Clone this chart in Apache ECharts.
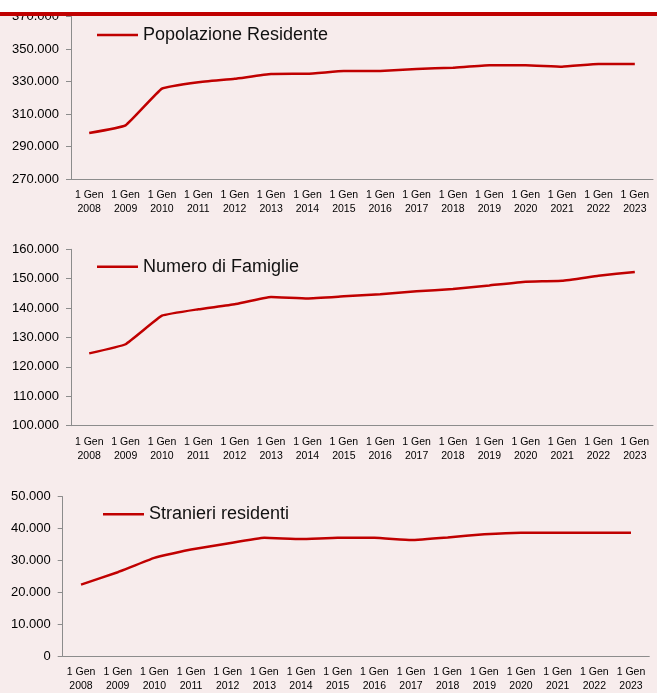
<!DOCTYPE html>
<html>
<head>
<meta charset="utf-8">
<script src="https://cdn.jsdelivr.net/npm/echarts@6/dist/echarts.min.js"></script>
<style>
  html, body { margin: 0; padding: 0; background: #fff; }
  #main { width: 657px; height: 693px; }
</style>
</head>
<body>
<div id="main"></div>
<script>
// anni (categorie comuni ai tre grafici)
var anni = ['2008', '2009', '2010', '2011', '2012', '2013', '2014', '2015',
            '2016', '2017', '2018', '2019', '2020', '2021', '2022', '2023'];

// Popolazione Residente
var popolazione = [298300, 303000, 325600, 329600, 331700, 334600, 334800, 336400,
                   336500, 337700, 338500, 340000, 340000, 339100, 340800, 340800];
var tickPopolazione = [270000, 290000, 310000, 330000, 350000, 370000];

// Numero di Famiglie
var famiglie = [124600, 127700, 137400, 139600, 141300, 143800, 143300, 144000,
                144700, 145700, 146500, 147700, 149000, 149300, 151000, 152300];
var tickFamiglie = [100000, 110000, 120000, 130000, 140000, 150000, 160000];

// Stranieri residenti
var stranieri = [22400, 26300, 30800, 33400, 35300, 37100, 36700, 37100,
                 37100, 36400, 37200, 38200, 38700, 38700, 38700, 38700];
var tickStranieri = [0, 10000, 20000, 30000, 40000, 50000];

var ROSSO = '#C00000';
var FONT = 'Liberation Sans';

function formatIt(v) {
  return String(v).replace(/\B(?=(\d{3})+(?!\d))/g, '.');
}

var chart = echarts.init(document.getElementById('main'));

function asseX(idx) {
  return {
    type: 'category',
    gridIndex: idx,
    data: anni,
    boundaryGap: true,
    axisLine: { lineStyle: { color: '#8c8c8c', width: 1 } },
    axisTick: { length: 4, lineStyle: { color: '#8c8c8c' } },
    axisLabel: {
      interval: 0,
      margin: 9,
      color: '#000',
      fontFamily: FONT,
      fontSize: 10.5,
      lineHeight: 14,
      formatter: function (v) { return '1 Gen\n' + v; }
    },
    splitLine: { show: false }
  };
}

function asseY(idx, ticks) {
  return {
    type: 'value',
    gridIndex: idx,
    min: ticks[0],
    max: ticks[ticks.length - 1],
    axisLine: { show: true, lineStyle: { color: '#8c8c8c', width: 1 } },
    axisTick: { show: true, length: 5, lineStyle: { color: '#8c8c8c' }, customValues: ticks },
    axisLabel: {
      color: '#000',
      fontFamily: FONT,
      fontSize: 13,
      margin: 12,
      customValues: ticks,
      formatter: function (v) { return formatIt(v); }
    },
    splitLine: { show: false }
  };
}

function serie(nome, dati, idx) {
  return {
    name: nome,
    type: 'line',
    xAxisIndex: idx,
    yAxisIndex: idx,
    data: dati,
    symbol: 'none',
    smooth: 0.1,
    lineStyle: { color: ROSSO, width: 2.5 },
    itemStyle: { color: ROSSO }
  };
}

function legenda(nome, left, centerY) {
  return {
    data: [nome],
    left: left,
    top: centerY - 11,
    padding: 0,
    icon: 'rect',
    itemWidth: 41,
    itemHeight: 2.5,
    itemGap: 5,
    itemStyle: { color: ROSSO },
    textStyle: { fontFamily: FONT, fontSize: 18, color: '#111', lineHeight: 22 }
  };
}

var option = {
  backgroundColor: '#F7ECEC',
  animation: false,
  grid: [
    { left: 71, right: 4, top: 16.5, height: 162.5 },
    { left: 71, right: 4, top: 249.3, height: 176.4 },
    { left: 62.7, right: 7.7, top: 496.7, height: 163 }
  ],
  xAxis: [asseX(0), asseX(1), asseX(2)],
  yAxis: [asseY(0, tickPopolazione), asseY(1, tickFamiglie), asseY(2, tickStranieri)],
  legend: [
    legenda('Popolazione Residente', 97, 35),
    legenda('Numero di Famiglie', 97, 266.7),
    legenda('Stranieri residenti', 103, 514.3)
  ],
  series: [
    serie('Popolazione Residente', popolazione, 0),
    serie('Numero di Famiglie', famiglie, 1),
    serie('Stranieri residenti', stranieri, 2)
  ],
  graphic: [
    { type: 'rect', z: 100, shape: { x: 0, y: 0, width: 657, height: 12 }, style: { fill: '#ffffff' } },
    { type: 'rect', z: 100, shape: { x: 0, y: 12, width: 657, height: 4 }, style: { fill: ROSSO } }
  ]
};

chart.setOption(option);
</script>
</body>
</html>
